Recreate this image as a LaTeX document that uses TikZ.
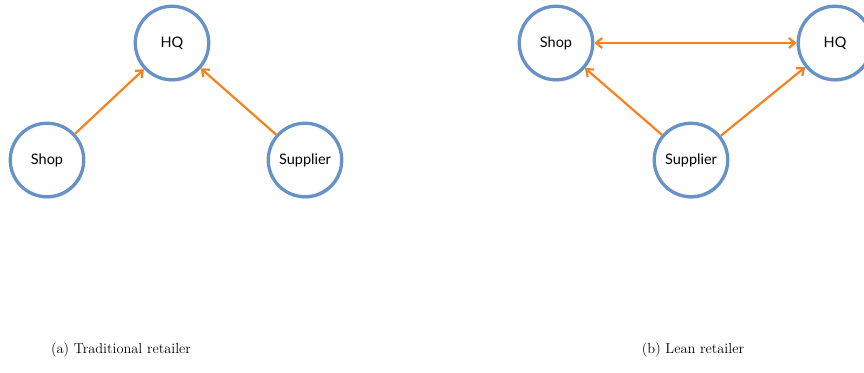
\documentclass[tikz,border=0pt]{standalone}
\usepackage{fontspec}
\newfontfamily\nodefont{Lato}
\usetikzlibrary{arrows.meta,shadows}
\definecolor{cblue}{RGB}{103,146,199}
\definecolor{corange}{RGB}{245,130,32}
\tikzset{
  x=1pt,y=1pt,
  place/.style={circle,draw=cblue,line width=3.3pt,fill=white,minimum size=73.5pt,inner sep=0pt,
    font=\nodefont\fontsize{14.5}{17}\selectfont,
    drop shadow={shadow xshift=1pt,shadow yshift=-2pt,opacity=0.3}},
  link/.style={draw=corange,line width=2.2pt,-{Straight Barb[length=6pt,width=10pt,line width=2.2pt]}},
  blink/.style={draw=corange,line width=2.2pt,{Straight Barb[length=6pt,width=10pt,line width=2.2pt]}-{Straight Barb[length=6pt,width=10pt,line width=2.2pt]}},
  captext/.style={font=\fontsize{14.4}{17}\selectfont}
}
\begin{document}
\begin{tikzpicture}
\useasboundingbox (0,0) rectangle (864,-372);
% (a)
\node[place] (hqa) at (172,-43) {HQ};
\node[place] (shopa) at (47,-160) {Shop};
\node[place] (supa) at (305,-160) {Supplier};
\draw[link] (shopa) -- (hqa);
\draw[link] (supa) -- (hqa);
% (b)
\node[place] (shopb) at (556,-43) {Shop};
\node[place] (hqb) at (835,-43) {HQ};
\node[place] (supb) at (691,-160) {Supplier};
\draw[blink] (shopb) -- (hqb);
\draw[link] (supb) -- (shopb);
\draw[link] (supb) -- (hqb);
% captions
\node[captext] (capa) at (121,-350) {(a) Traditional retailer};
\node[captext] (capb) at (693,-350) {(b) Lean retailer};
\end{tikzpicture}
\end{document}
